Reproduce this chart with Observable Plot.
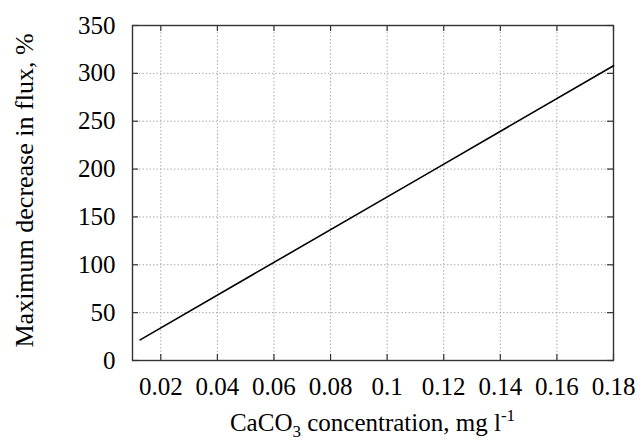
<!DOCTYPE html>
<html>
<head>
<meta charset="utf-8">
<script src="https://cdn.jsdelivr.net/npm/d3@7"></script>
<script src="https://cdn.jsdelivr.net/npm/@observablehq/plot@0.6"></script>
</head>
<body style="margin:0">
<div id="chart"></div>
<script>
// Data
const concentration = [0.0127, 0.117, 0.18];   // CaCO3 concentration, mg l-1
const decrease = [21.6, 200, 308];              // Maximum decrease in flux, %
const xTicks = [0.02, 0.04, 0.06, 0.08, 0.1, 0.12, 0.14, 0.16, 0.18];
const yTicks = [0, 50, 100, 150, 200, 250, 300, 350];
const yLabel = "Maximum decrease in flux, %";

const W = 643, H = 441;
const M = {top: 25, right: 30, bottom: 81, left: 132};
const innerH = H - M.top - M.bottom;
const innerW = W - M.left - M.right;
const FONT = "Liberation Serif";

const data = concentration.map((c, i) => ({c, v: decrease[i]}));
const fmt = d => String(+d.toFixed(2));

const chart = Plot.plot({
  width: W,
  height: H,
  marginTop: M.top,
  marginRight: M.right,
  marginBottom: M.bottom,
  marginLeft: M.left,
  style: {fontFamily: FONT, fontSize: "25px"},
  x: {domain: [0.01, 0.18], label: null},
  y: {domain: [0, 350], label: null},
  marks: [
    Plot.gridX(xTicks, {stroke: "#aaa", strokeOpacity: 1, strokeDasharray: "1.5,2"}),
    Plot.gridY(yTicks, {stroke: "#aaa", strokeOpacity: 1, strokeDasharray: "1.5,2"}),
    Plot.tickX(xTicks, {x: d => d, stroke: "#333", strokeWidth: 1.2, insetTop: innerH - 6}),
    Plot.tickX(xTicks, {x: d => d, stroke: "#333", strokeWidth: 1.2, insetBottom: innerH - 6}),
    Plot.tickY(yTicks, {y: d => d, stroke: "#333", strokeWidth: 1.2, insetRight: innerW - 6}),
    Plot.tickY(yTicks, {y: d => d, stroke: "#333", strokeWidth: 1.2, insetLeft: innerW - 6}),
    Plot.axisX(xTicks, {tickSize: 0, tickPadding: 17, tickFormat: fmt, fontSize: 25, fontFamily: FONT}),
    Plot.axisY(yTicks, {tickSize: 0, tickPadding: 17, fontSize: 25, fontFamily: FONT}),
    Plot.frame({stroke: "#333", strokeWidth: 1.4}),
    Plot.line(data, {x: "c", y: "v", stroke: "#000", strokeWidth: 1.6})
  ]
});

document.getElementById("chart").appendChild(chart);

const svg = d3.select(chart);

// Axis titles with sub/superscripts as real text
const xl = svg.append("text")
  .attr("x", M.left + innerW / 2)
  .attr("y", 431)
  .attr("text-anchor", "middle")
  .attr("font-family", FONT)
  .attr("font-size", 25)
  .attr("fill", "#000");
xl.append("tspan").text("CaCO");
xl.append("tspan").attr("font-size", 17).attr("dy", 6).text("3");
xl.append("tspan").attr("dy", -6).text(" concentration, mg l");
xl.append("tspan").attr("font-size", 17).attr("dy", -10).text("-1");

svg.append("text")
  .attr("transform", `translate(32.5,${M.top + innerH / 2 - 2}) rotate(-90)`)
  .attr("text-anchor", "middle")
  .attr("font-family", FONT)
  .attr("font-size", 26)
  .attr("fill", "#000")
  .text(yLabel);
</script>
</body>
</html>
